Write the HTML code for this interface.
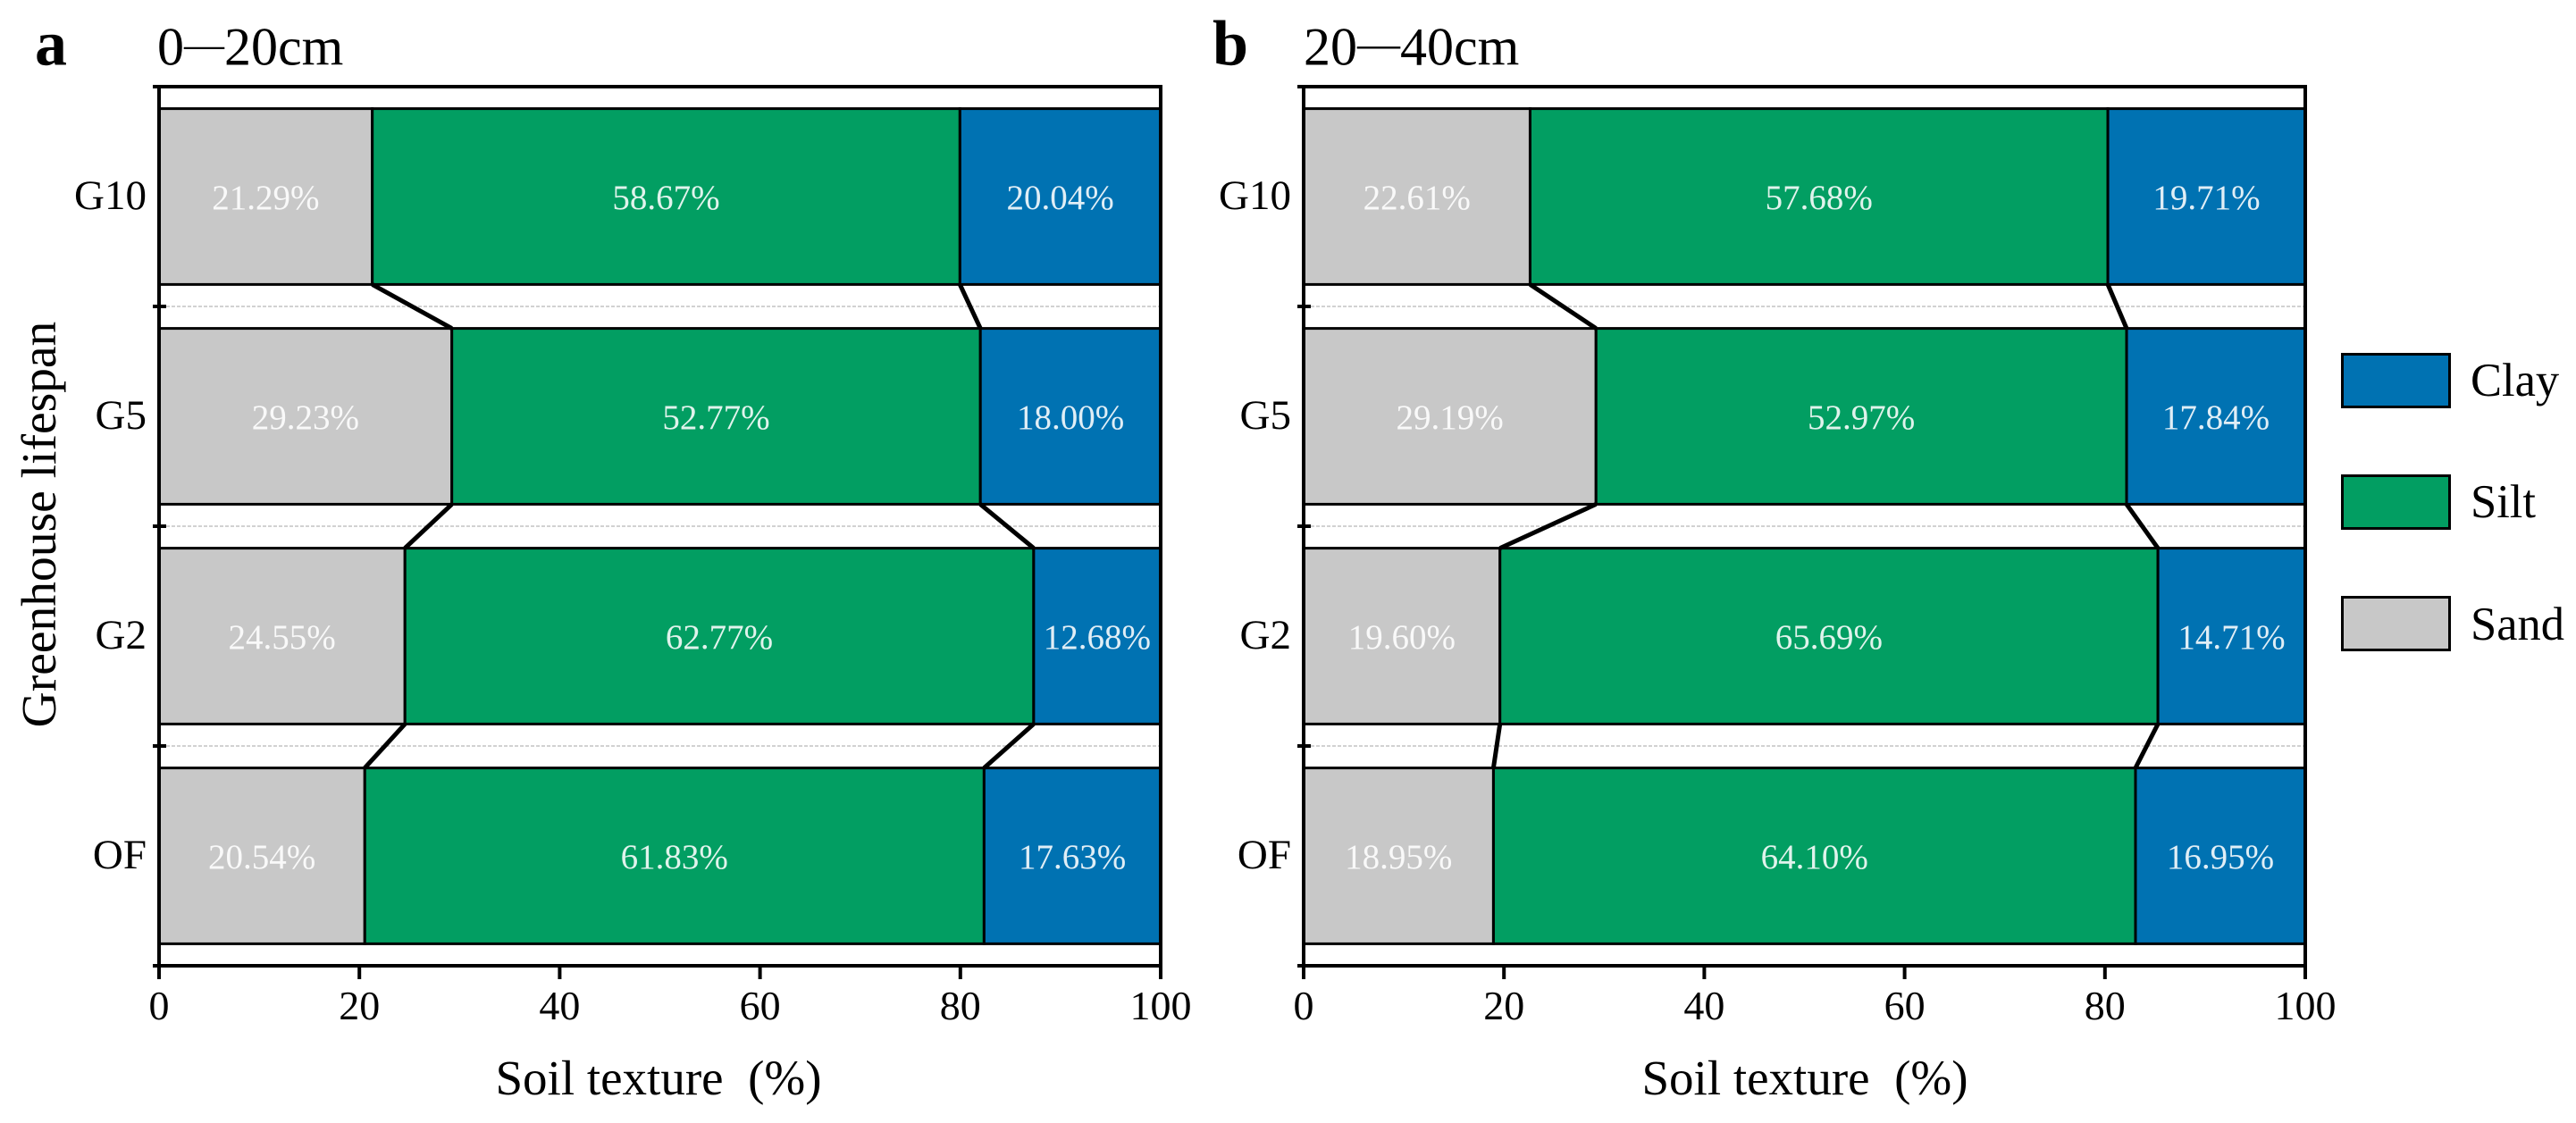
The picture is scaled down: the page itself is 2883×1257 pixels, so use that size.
<!DOCTYPE html>
<html lang="en">
<head>
<meta charset="utf-8">
<title>Soil texture by greenhouse lifespan</title>
<style>
html,body{margin:0;padding:0;background:#fff;}
svg{display:block;}
text{font-family:"Liberation Serif",serif;fill:#000;}
</style>
</head>
<body>
<svg id="chart" xmlns="http://www.w3.org/2000/svg" width="2883" height="1257" viewBox="0 0 2883 1257">
  <rect x="0" y="0" width="2883" height="1257" fill="#fff"/>

  <text x="39" y="72.5" font-size="72" font-weight="bold">a</text>
  <text x="176" y="72.5" font-size="60">0<tspan font-size="45" dy="-8">—</tspan><tspan dy="8">20cm</tspan></text>
  <text x="1357" y="72.5" font-size="72" font-weight="bold">b</text>
  <text x="1459" y="72.5" font-size="60">20<tspan font-size="48" dy="-8">—</tspan><tspan dy="8">40cm</tspan></text>

  <text transform="translate(62 587) rotate(-90)" text-anchor="middle" font-size="55.5">Greenhouse lifespan</text>
  <text x="737" y="1225" text-anchor="middle" font-size="55" xml:space="preserve">Soil texture  (%)</text>
  <text x="2020" y="1225" text-anchor="middle" font-size="55" xml:space="preserve">Soil texture  (%)</text>

  <g id="panel-a"></g>
  <g id="panel-b"></g>

  <g>
    <g>
      <rect x="2621.5" y="396.5" width="120" height="59" fill="#0072b2" stroke="#000" stroke-width="3"/>
      <text x="2765" y="443" font-size="52.5">Clay</text>
    </g>
    <g>
      <rect x="2621.5" y="532.5" width="120" height="59" fill="#029e62" stroke="#000" stroke-width="3"/>
      <text x="2765" y="579" font-size="52.5">Silt</text>
    </g>
    <g>
      <rect x="2621.5" y="668.5" width="120" height="59" fill="#c8c8c8" stroke="#000" stroke-width="3"/>
      <text x="2765" y="716" font-size="52.5">Sand</text>
    </g>
  </g>
</svg>

<script>
const categories = ['G10', 'G5', 'G2', 'OF'];
const xTickLabels = [0, 20, 40, 60, 80, 100];
const sandA = [21.29, 29.23, 24.55, 20.54];
const siltA = [58.67, 52.77, 62.77, 61.83];
const clayA = [20.04, 18.00, 12.68, 17.63];
const sandB = [22.61, 29.19, 19.60, 18.95];
const siltB = [57.68, 52.97, 65.69, 64.10];
const clayB = [19.71, 17.84, 14.71, 16.95];

const NS = 'http://www.w3.org/2000/svg';
const PLOT_TOP = 97, PLOT_BOTTOM = 1081, BAND_PAD = 0.1;
const COLORS = { sand: '#c8c8c8', silt: '#029e62', clay: '#0072b2' };

function make(tag, attrs, parent) {
  const el = document.createElementNS(NS, tag);
  for (const k in attrs) el.setAttribute(k, attrs[k]);
  parent.appendChild(el);
  return el;
}

function drawPanel(group, prefix, x0, x100, sand, silt, clay) {
  const xScale = v => x0 + (x100 - x0) * v / 100;
  const band = (PLOT_BOTTOM - PLOT_TOP) / categories.length;
  const yTop = i => PLOT_TOP + band * i;
  const barTop = i => yTop(i) + band * BAND_PAD;
  const barBottom = i => yTop(i) + band * (1 - BAND_PAD);

  // dashed separators between categories
  for (let i = 1; i < categories.length; i++) {
    const grid = make('line', { x1: x0 + 8, x2: x100 - 2, y1: yTop(i), y2: yTop(i), stroke: '#d2d2d2', 'stroke-width': 2, 'stroke-dasharray': '4 2' }, group);
    
    
  }

  // stacked bars
  categories.forEach((cat, i) => {
    const parts = [['sand', sand[i]], ['silt', silt[i]], ['clay', clay[i]]];
    let cum = 0;
    parts.forEach(([key, val]) => {
      const start = cum;
      cum += val;
      const endV = Math.min(cum, 100);
      const bar = make('rect', { x: xScale(start), y: barTop(i), width: xScale(endV) - xScale(start), height: barBottom(i) - barTop(i), fill: COLORS[key], stroke: '#000', 'stroke-width': 3 }, group);
      
      
      const label = make('text', { x: xScale((start + endV) / 2), y: (barTop(i) + barBottom(i)) / 2 + 14, 'text-anchor': 'middle', 'font-size': 39, style: 'fill:#fff;fill-opacity:.88' }, group);
      
      
      label.textContent = val.toFixed(2) + '%';
    });
  });

  // connectors between adjacent bars at stack boundaries
  for (let i = 0; i < categories.length - 1; i++) {
    const a1 = sand[i], b1 = sand[i + 1];
    const a2 = sand[i] + silt[i], b2 = sand[i + 1] + silt[i + 1];
    [[a1, b1], [a2, b2]].forEach(([a, b]) => {
      const conn = make('line', { x1: xScale(a), y1: barBottom(i), x2: xScale(b), y2: barTop(i + 1), stroke: '#000', 'stroke-width': 5 }, group);
      
      
    });
  }

  // frame
  const frame = make('rect', { x: x0, y: PLOT_TOP, width: x100 - x0, height: PLOT_BOTTOM - PLOT_TOP, fill: 'none', stroke: '#000', 'stroke-width': 4 }, group);
  
  

  // y ticks (crossing the axis at band edges)
  for (let i = 0; i <= categories.length; i++) {
    const t = make('line', { x1: x0 - 7, x2: x0 + 8, y1: yTop(i), y2: yTop(i), stroke: '#000', 'stroke-width': 4 }, group);
    
    
  }

  // y labels
  categories.forEach((cat, i) => {
    const t = make('text', { x: x0 - 14, y: (barTop(i) + barBottom(i)) / 2 + 14, 'text-anchor': 'end', 'font-size': 47 }, group);
    
    
    t.textContent = cat;
  });

  // x ticks and labels
  xTickLabels.forEach(v => {
    const t = make('line', { x1: xScale(v), x2: xScale(v), y1: PLOT_BOTTOM, y2: PLOT_BOTTOM + 15, stroke: '#000', 'stroke-width': 4 }, group);
    
    
    const l = make('text', { x: xScale(v), y: 1141, 'text-anchor': 'middle', 'font-size': 46 }, group);
    
    
    l.textContent = v;
  });
}

drawPanel(document.getElementById('panel-a'), 'panel-a', 178, 1299, sandA, siltA, clayA);
drawPanel(document.getElementById('panel-b'), 'panel-b', 1459, 2580, sandB, siltB, clayB);
</script>
</body>
</html>
